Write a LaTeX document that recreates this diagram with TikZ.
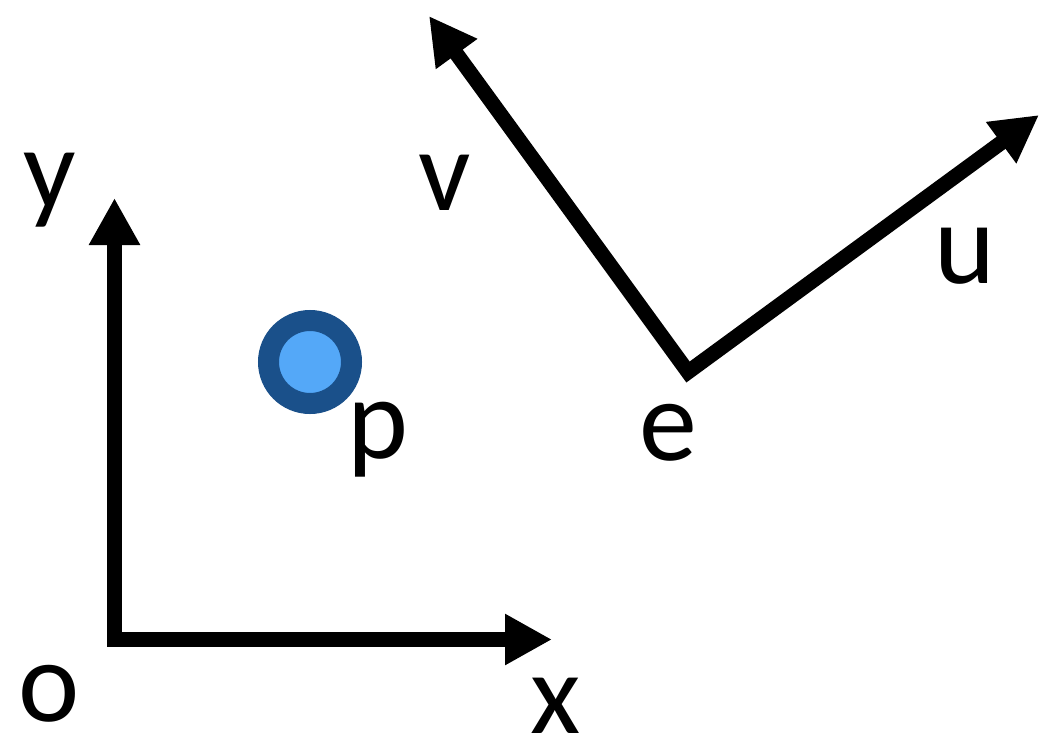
\documentclass[tikz,border=0pt]{standalone}
\usepackage{fontspec}
\setmainfont{Carlito}
\usetikzlibrary{arrows.meta}
\definecolor{ringdark}{RGB}{26,80,138}
\definecolor{ringlight}{RGB}{84,168,248}
\begin{document}
\begin{tikzpicture}[x=1pt,y=-1pt,
  vec/.style={line width=15pt, line join=miter, draw=black},
  bigtip/.tip={Triangle[length=47pt,width=48pt]},
  lbl/.style={anchor=base, inner sep=0pt, font=\fontsize{116}{130}\selectfont}]
\useasboundingbox (0,0) rectangle (1040,741);
% frame o
\coordinate (o) at (114.5,639.5);
\coordinate (ytip) at (114.5,198);
\coordinate (xtip) at (552,639.5);
\draw[vec, bigtip-bigtip] (ytip) -- (o) -- (xtip);
% frame e
\coordinate (e) at (688,372);
\coordinate (vtip) at (429,16);
\coordinate (utip) at (1039,115);
\draw[vec, bigtip-bigtip] (vtip) -- (e) -- (utip);
% point p
\coordinate (pc) at (310,362);
\draw[draw=ringdark, fill=ringlight, line width=21pt] (pc) circle[radius=41.5pt];
% labels
\node[lbl] (ly) at (50,208) {y};
\node[lbl] (lo) at (49.5,721) {o};
\node[lbl] (lx) at (556,733) {x};
\node[lbl] (lp) at (378,458) {p};
\node[lbl] (le) at (668,460) {e};
\node[lbl] (lv) at (445,210) {v};
\node[lbl] (lu) at (965,283) {u};
\end{tikzpicture}
\end{document}
